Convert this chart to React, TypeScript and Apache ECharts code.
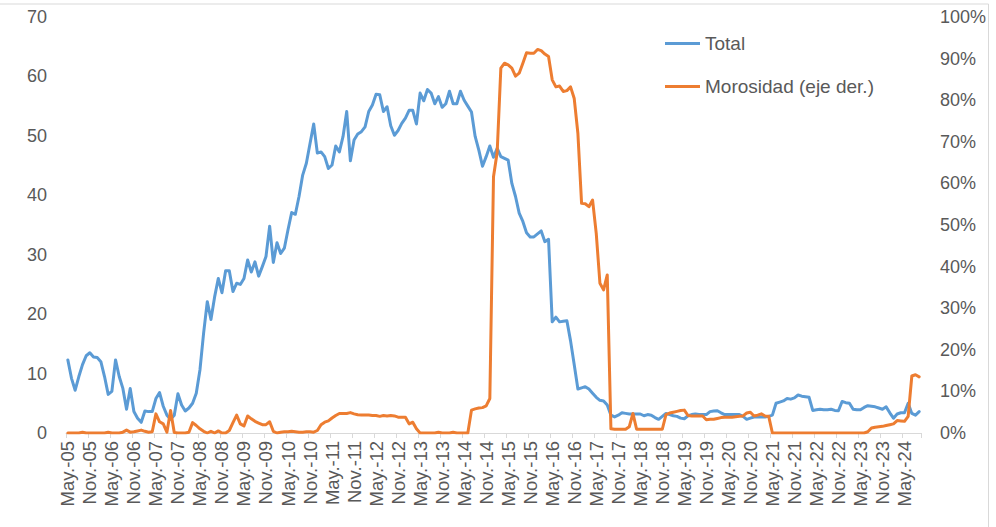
import React, { useEffect, useRef } from "react";
import * as echarts from "echarts";

const monthNames = ["Ene.", "Feb.", "Mar.", "Abr.", "May.", "Jun.", "Jul.", "Ago.", "Sep.", "Oct.", "Nov.", "Dic."];
const startYear = 2005;
const startMonth = 4; // May
const pointCount = 233;

const categories: string[] = [];
for (let k = 0; k < pointCount; k++) {
  const m = (startMonth + k) % 12;
  const y = startYear + Math.floor((startMonth + k) / 12);
  categories.push(monthNames[m] + "-" + String(y % 100).padStart(2, "0"));
}

const totalValues = [
  12.3, 9.2, 7.2, 9.5, 11.5, 13.0, 13.5, 12.8, 12.7, 12.0,
  9.5, 6.5, 7.0, 12.3, 9.5, 7.5, 4.0, 7.5, 3.6, 2.5,
  1.8, 3.7, 3.6, 3.6, 5.8, 6.8, 4.5, 3.0, 2.3, 3.0,
  6.6, 4.7, 3.7, 4.2, 5.0, 6.7, 10.6, 16.8, 22.1, 19.1,
  22.9, 26.0, 23.6, 27.3, 27.3, 23.8, 25.2, 25.0, 26.0, 29.1,
  27.1, 28.8, 26.4, 28.0, 29.7, 34.8, 28.7, 32.0, 30.2, 31.1,
  34.2, 37.1, 36.8, 39.8, 43.4, 45.4, 48.7, 52.0, 47.1, 47.3,
  46.5, 44.5, 45.1, 48.3, 47.3, 49.9, 54.1, 45.8, 49.3, 50.3,
  50.7, 51.5, 54.1, 55.2, 57.0, 56.9, 54.1, 54.9, 51.7, 50.1,
  50.9, 52.1, 53.0, 54.3, 54.3, 52.0, 57.2, 55.9, 57.8, 57.2,
  55.4, 56.6, 54.8, 55.4, 57.5, 55.4, 55.4, 57.5, 56.0, 55.0,
  54.0, 49.9, 47.6, 44.9, 46.5, 48.3, 46.4, 47.9, 46.5, 46.2,
  45.9, 42.0, 39.8, 37.0, 35.6, 33.7, 33.0, 33.0, 33.5, 34.0,
  32.2, 32.6, 18.7, 19.5, 18.7, 18.8, 18.9, 15.5, 11.5, 7.4,
  7.6, 7.8, 7.4, 6.7, 6.0, 5.5, 5.4, 4.7, 3.0, 2.7,
  3.0, 3.4, 3.3, 3.2, 3.2, 3.2, 3.2, 2.9, 3.1, 3.0,
  2.6, 2.3, 2.8, 3.3, 3.1, 2.9, 2.8, 2.5, 2.4, 2.9,
  3.1, 3.2, 3.1, 3.1, 3.1, 3.6, 3.7, 3.75, 3.4, 3.1,
  3.1, 3.1, 3.1, 3.1, 2.8, 2.3, 2.5, 2.7, 2.7, 2.7,
  2.7, 2.8, 3.0, 5.0, 5.2, 5.4, 5.8, 5.7, 5.9, 6.4,
  6.2, 6.1, 6.0, 3.8, 3.9, 4.0, 3.9, 3.9, 4.0, 3.8,
  3.75, 5.3, 5.1, 5.0, 4.0, 3.9, 3.9, 4.3, 4.6, 4.5,
  4.4, 4.2, 4.0, 4.4, 3.4, 2.5, 3.2, 3.4, 3.4, 5.0,
  3.3, 3.0, 3.6,
];

const morosidadValues = [
  0, 0, 0, 0, 0.2, 0, 0, 0, 0, 0,
  0, 0.2, 0, 0, 0, 0.2, 0.7, 0.2, 0.3, 0.5,
  0.7, 0.4, 0.2, 0.3, 4.6, 2.7, 2.2, 0.2, 5.4, 0.1,
  0, 0, 0, 0.2, 2.5, 1.8, 1.0, 0.4, 0, 0.4,
  0, 0.5, 0, 0, 0.6, 2.5, 4.3, 2.2, 1.7, 4.1,
  3.4, 2.8, 2.4, 2.0, 2.0, 2.7, 0.4, 0, 0.2, 0.3,
  0.3, 0.4, 0.3, 0.2, 0.2, 0.3, 0.3, 0.2, 0.6, 2.0,
  2.6, 2.9, 3.6, 4.2, 4.7, 4.7, 4.7, 4.9, 4.6, 4.4,
  4.3, 4.3, 4.3, 4.2, 4.2, 4.0, 4.2, 4.1, 4.2, 4.1,
  3.8, 3.8, 3.8, 2.2, 2.6, 1.0, 0, 0, 0, 0,
  0, 0.2, 0, 0, 0, 0.2, 0, 0, 0, 0,
  5.5, 5.8, 6.0, 6.1, 6.5, 8.3, 61.6, 67.5, 87.7, 88.9,
  88.5, 87.7, 85.8, 86.5, 88.9, 91.4, 91.3, 91.3, 92.2, 91.9,
  91.1, 90.5, 84.9, 83.2, 83.4, 82.1, 82.3, 83.2, 80.4, 72.0,
  55.2, 55.1, 54.4, 56.0, 48.0, 36.0, 34.4, 38.0, 1.0, 0.9,
  0.9, 0.9, 0.9, 1.5, 4.7, 0.9, 0.9, 0.9, 0.9, 0.9,
  0.9, 0.9, 0.9, 4.4, 4.8, 5.0, 5.2, 5.4, 5.5, 4.2,
  4.1, 4.1, 4.1, 4.1, 3.2, 3.3, 3.3, 3.5, 3.7, 3.8,
  3.8, 3.8, 3.9, 4.0, 4.1, 4.8, 5.0, 4.1, 4.3, 4.6,
  4.1, 4.0, 0, 0, 0, 0, 0, 0, 0, 0,
  0, 0, 0, 0, 0, 0, 0, 0, 0, 0,
  0, 0, 0, 0, 0, 0, 0, 0, 0.3, 1.2,
  1.4, 1.5, 1.6, 1.8, 2.0, 2.2, 3.0, 2.9, 2.8, 4.0,
  13.7, 14.0, 13.5,
];

const seriesNames = ["Total", "Morosidad (eje der.)"];
const colors = ["#5B9BD5", "#ED7D31"];
const font = "'Liberation Sans', Arial, sans-serif";
const textColor = "#595959";

export default function App() {
  const ref = useRef<HTMLDivElement>(null);
  useEffect(() => {
    if (!ref.current) return;
    const chart = echarts.init(ref.current, undefined, { renderer: "svg" });
    chart.setOption({
      animation: false,
      backgroundColor: "#ffffff",
      textStyle: { fontFamily: font },
      grid: { left: 66, right: 75, top: 17, bottom: 94, containLabel: false },
      graphic: [
        {
          type: "rect",
          shape: { x: -2, y: 4, width: 990.5, height: 600 },
          style: { fill: "none", stroke: "#D9D9D9", lineWidth: 1 },
          silent: true,
        },
      ],
      legend: {
        orient: "vertical",
        left: 660,
        top: 29,
        itemWidth: 35,
        itemHeight: 3,
        itemGap: 24,
        icon: "rect",
        textStyle: { fontSize: 19, color: textColor, fontFamily: font },
        data: seriesNames,
      },
      xAxis: {
        type: "category",
        data: categories,
        boundaryGap: true,
        axisLine: { show: true, lineStyle: { color: "#D9D9D9", width: 1 } },
        axisTick: { show: true, interval: 5, length: 5, lineStyle: { color: "#D9D9D9" } },
        axisLabel: {
          interval: 5,
          rotate: 90,
          margin: 8,
          fontSize: 18.5,
          color: textColor,
          fontFamily: font,
        },
        splitLine: { show: false },
      },
      yAxis: [
        {
          type: "value",
          min: 0,
          max: 70,
          interval: 10,
          axisLine: { show: false },
          axisTick: { show: false },
          splitLine: { show: false },
          axisLabel: { fontSize: 18, color: textColor, margin: 19, fontFamily: font },
        },
        {
          type: "value",
          min: 0,
          max: 100,
          interval: 10,
          axisLine: { show: false },
          axisTick: { show: false },
          splitLine: { show: false },
          axisLabel: { fontSize: 18, color: textColor, margin: 19, formatter: "{value}%", fontFamily: font },
        },
      ],
      series: [
        {
          name: seriesNames[0],
          type: "line",
          yAxisIndex: 0,
          data: totalValues,
          showSymbol: false,
          symbol: "none",
          lineStyle: { color: colors[0], width: 3, join: "round", cap: "round" },
          itemStyle: { color: colors[0] },
        },
        {
          name: seriesNames[1],
          type: "line",
          yAxisIndex: 1,
          data: morosidadValues,
          showSymbol: false,
          symbol: "none",
          lineStyle: { color: colors[1], width: 3, join: "round", cap: "round" },
          itemStyle: { color: colors[1] },
        },
      ],
    });
    return () => chart.dispose();
  }, []);
  return (
    <div
      ref={ref}
      style={{ position: "fixed", left: 0, top: 0, width: 996, height: 527, background: "#fff" }}
    />
  );
}
